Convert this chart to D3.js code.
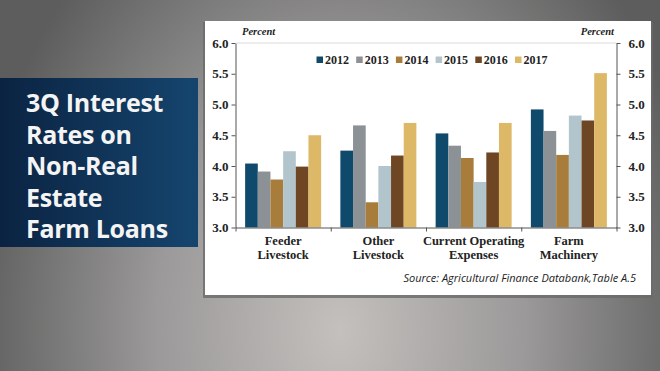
<!DOCTYPE html>
<html>
<head>
<meta charset="utf-8">
<script src="https://cdn.jsdelivr.net/npm/d3@7"></script>
<style>
  html, body { margin: 0; padding: 0; overflow: hidden; }
  svg { display: block; }
</style>
</head>
<body>
<div id="chart"></div>
<script>
// --- data ---
const categories = [["Feeder", "Livestock"], ["Other", "Livestock"], ["Current Operating", "Expenses"], ["Farm", "Machinery"]];
const years = ["2012", "2013", "2014", "2015", "2016", "2017"];
const rates2012 = [4.04, 4.25, 4.53, 4.92];
const rates2013 = [3.91, 4.66, 4.33, 4.57];
const rates2014 = [3.78, 3.41, 4.13, 4.18];
const rates2015 = [4.24, 4.00, 3.74, 4.82];
const rates2016 = [3.99, 4.17, 4.22, 4.74];
const rates2017 = [4.50, 4.70, 4.70, 5.51];
const yTicks = [3.0, 3.5, 4.0, 4.5, 5.0, 5.5, 6.0];
const colors = ["#0f4a6c", "#8c9196", "#a87c3a", "#b2c5cd", "#6e4624", "#ddb867"];
const titleLines = ["3Q Interest", "Rates on", "Non-Real", "Estate", "Farm Loans"];

const series = [rates2012, rates2013, rates2014, rates2015, rates2016, rates2017];

const W = 660, H = 371;
const svg = d3.select("#chart").append("svg")
    .attr("width", W)
    .attr("height", H);

const defs = svg.append("defs");

// background: grey radial glow (stretched vertically)
const bg = defs.append("radialGradient").attr("id", "bg")
    .attr("gradientUnits", "userSpaceOnUse")
    .attr("cx", 340).attr("cy", 330).attr("r", 370)
    .attr("gradientTransform", "translate(0,330) scale(1,1.35) translate(0,-330)");
bg.append("stop").attr("offset", 0).attr("stop-color", "#c3c0bd");
bg.append("stop").attr("offset", 0.5).attr("stop-color", "#9b9999");
bg.append("stop").attr("offset", 1).attr("stop-color", "#5c5d5c");
svg.append("rect").attr("width", W).attr("height", H).attr("fill", "url(#bg)");

// title box
const tb = defs.append("linearGradient").attr("id", "tb")
    .attr("x1", 0).attr("x2", 1).attr("y1", 0).attr("y2", 0);
tb.append("stop").attr("offset", 0).attr("stop-color", "#0b2342");
tb.append("stop").attr("offset", 1).attr("stop-color", "#15456e");
svg.append("rect")
    .attr("x", 0).attr("y", 78).attr("width", 198).attr("height", 169)
    .attr("fill", "url(#tb)");
svg.append("g").selectAll("text")
    .data(titleLines)
    .join("text")
    .attr("x", 26)
    .attr("y", (d, i) => 112 + i * 31.6)
    .attr("fill", "#f4f4f4")
    .style("font-family", "'Open Sans', sans-serif")
    .style("font-weight", 700)
    .style("font-size", "25px")
    .style("letter-spacing", "-0.3px")
    .text(d => d);

// white panel with shadow
svg.append("rect")
    .attr("x", 203).attr("y", 22).attr("width", 450).attr("height", 276)
    .attr("fill", "#6a6a6a").attr("opacity", 0.8);
svg.append("rect")
    .attr("x", 205).attr("y", 21).attr("width", 446).attr("height", 274)
    .attr("fill", "#fff");

// --- scales ---
const plotLeft = 235.5, plotRight = 616.5, plotTop = 43, plotBottom = 227.5;

const x0 = d3.scaleBand()
    .domain(d3.range(categories.length))
    .range([plotLeft, plotRight])
    .padding(0);

const x1 = d3.scaleBand()
    .domain(years)
    .range([0, x0.bandwidth()])
    .paddingInner(0)
    .paddingOuter(0.76);

const y = d3.scaleLinear()
    .domain([3, 6])
    .range([plotBottom, plotTop]);

const serif = "'Liberation Serif', 'DejaVu Serif', serif";

// bars
const groups = svg.append("g").selectAll("g")
    .data(categories.map((c, i) => i))
    .join("g")
    .attr("transform", i => `translate(${x0(i)},0)`);

groups.selectAll("rect")
    .data(i => years.map((yr, k) => ({ yr, k, v: series[k][i] })))
    .join("rect")
    .attr("x", d => x1(d.yr))
    .attr("width", x1.bandwidth())
    .attr("y", d => y(d.v))
    .attr("height", d => y(3) - y(d.v))
    .attr("fill", d => colors[d.k]);

// axes
const fmt = d3.format(".1f");
const axisStyle = g => {
    g.select(".domain").attr("stroke", "#555").attr("stroke-width", 1);
    g.selectAll(".tick line").attr("stroke", "#555");
    g.selectAll(".tick text")
        .style("font-family", serif)
        .style("font-weight", 700)
        .style("font-size", "13px")
        .attr("fill", "#222");
};

svg.append("g")
    .attr("transform", `translate(${plotLeft},0)`)
    .call(d3.axisLeft(y).tickValues(yTicks).tickFormat(fmt).tickSize(4).tickSizeOuter(0).tickPadding(3))
    .call(axisStyle);

svg.append("g")
    .attr("transform", `translate(${plotRight},0)`)
    .call(d3.axisRight(y).tickValues(yTicks).tickFormat(fmt).tickSize(4).tickSizeOuter(0).tickPadding(8))
    .call(axisStyle);

// top rule
svg.append("line")
    .attr("x1", plotLeft).attr("x2", plotRight)
    .attr("y1", y(6)).attr("y2", y(6))
    .attr("stroke", "#d0d0d0").attr("stroke-width", 0.8);

// bottom axis with ticks at group boundaries
const xb = d3.scaleLinear().domain([0, categories.length]).range([plotLeft, plotRight]);
svg.append("g")
    .attr("transform", `translate(0,${plotBottom})`)
    .call(d3.axisBottom(xb).ticks(categories.length).tickFormat("").tickSize(4).tickSizeOuter(0))
    .call(axisStyle);

// category labels
const catLabels = svg.append("g").selectAll("text")
    .data(categories.map((c, i) => ({ c, i })))
    .join("text")
    .attr("text-anchor", "middle")
    .attr("x", d => x0(d.i) + x0.bandwidth() / 2)
    .attr("y", 245)
    .attr("fill", "#222")
    .style("font-family", serif)
    .style("font-weight", 700)
    .style("font-size", "12.5px");
catLabels.selectAll("tspan")
    .data(d => d.c.map(t => ({ t, x: x0(d.i) + x0.bandwidth() / 2 })))
    .join("tspan")
    .attr("x", d => d.x)
    .attr("dy", (d, k) => k === 0 ? 0 : 14)
    .text(d => d.t);

// "Percent" labels
const pct = [{ x: 242, anchor: "start" }, { x: 614, anchor: "end" }];
svg.append("g").selectAll("text")
    .data(pct)
    .join("text")
    .attr("x", d => d.x)
    .attr("y", 35)
    .attr("text-anchor", d => d.anchor)
    .attr("fill", "#222")
    .style("font-family", serif)
    .style("font-weight", 700)
    .style("font-style", "italic")
    .style("font-size", "10.5px")
    .text("Percent");

// legend
const legend = svg.append("g").selectAll("g")
    .data(years)
    .join("g")
    .attr("transform", (d, i) => `translate(${316.5 + i * 39.7},60)`);
legend.append("rect")
    .attr("x", 0).attr("y", -3.5)
    .attr("width", 6.5).attr("height", 6.5)
    .attr("fill", (d, i) => colors[i]);
legend.append("text")
    .attr("x", 8.5)
    .attr("y", 4)
    .attr("fill", "#222")
    .style("font-family", serif)
    .style("font-weight", 700)
    .style("font-size", "12px")
    .text(d => d);

// source note
svg.append("text")
    .attr("x", 636)
    .attr("y", 282)
    .attr("text-anchor", "end")
    .attr("fill", "#222")
    .style("font-family", "'Open Sans', sans-serif")
    .style("font-style", "italic")
    .style("font-size", "11px")
    .text("Source: Agricultural Finance Databank,Table A.5");
</script>
</body>
</html>
